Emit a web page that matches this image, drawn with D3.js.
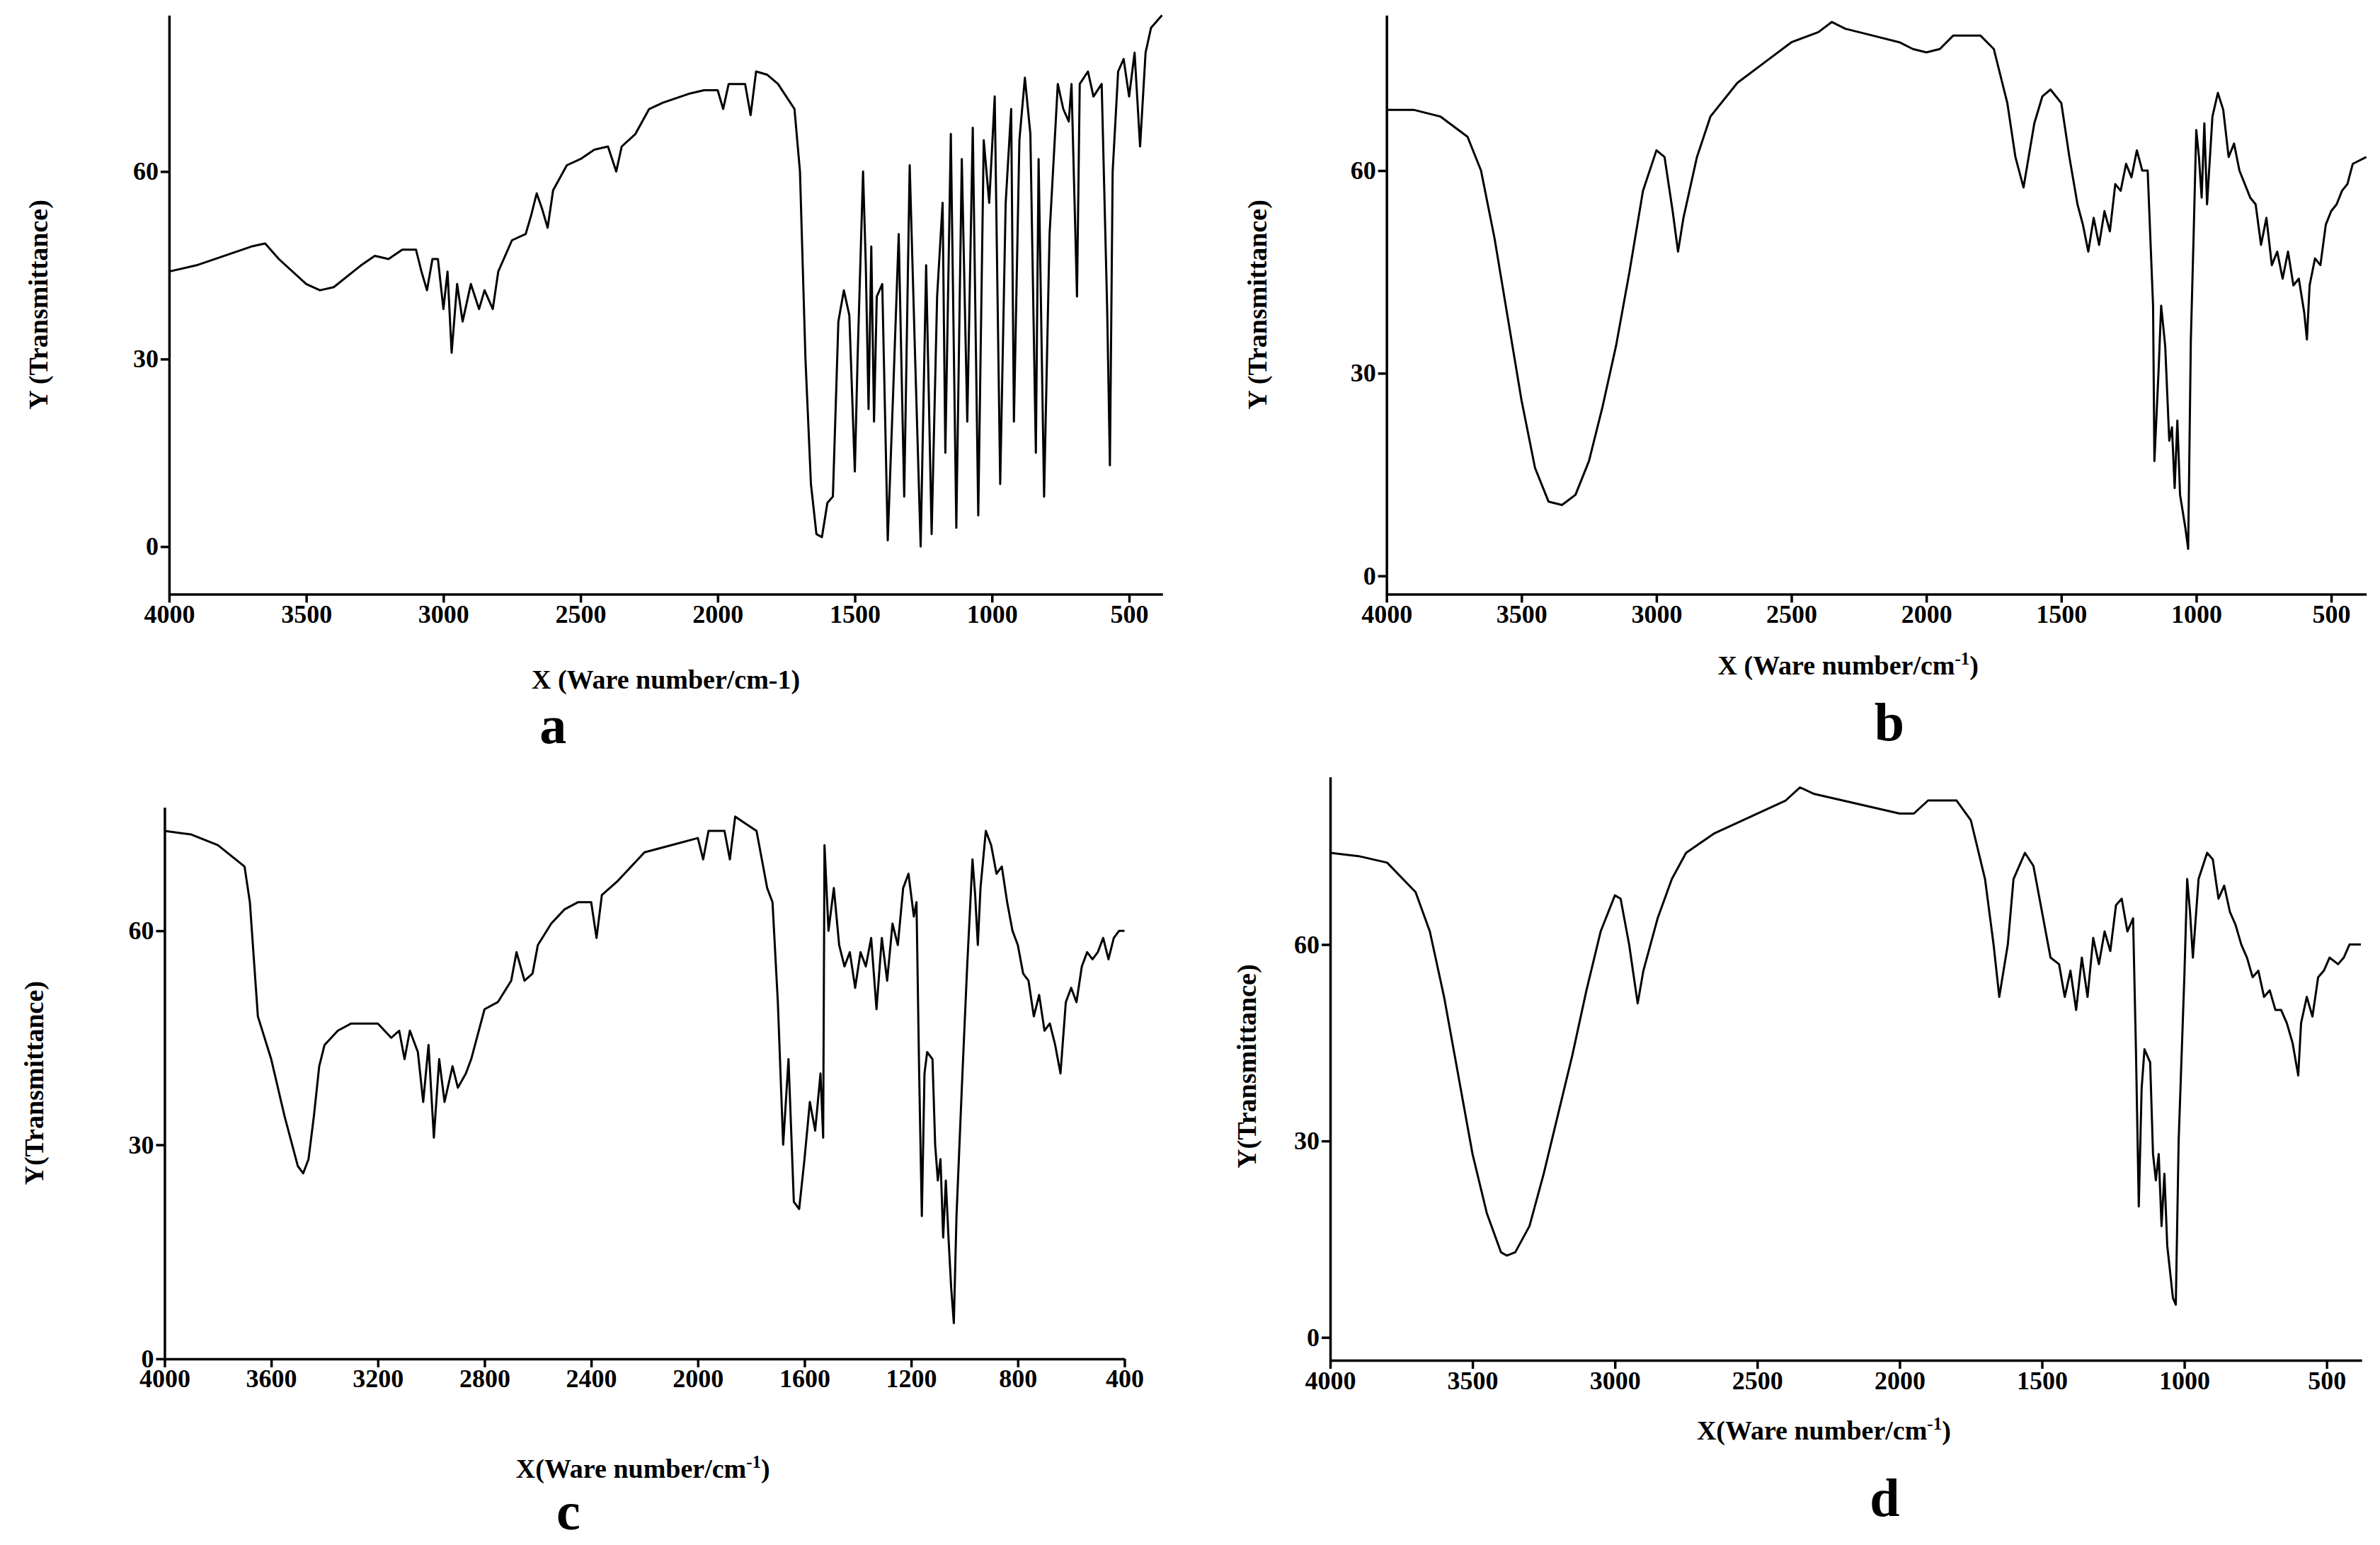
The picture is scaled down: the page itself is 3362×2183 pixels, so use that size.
<!DOCTYPE html><html><head><meta charset="utf-8"><script src="https://cdn.jsdelivr.net/npm/d3@7"></script>
<style>body{margin:0;background:#fff}</style></head><body><svg id="c" width="3362" height="2183"></svg>
<script>
const spectrumA=[[4000,44],[3900,45],[3800,46.5],[3700,48],[3650,48.5],[3600,46],[3500,42],[3450,41],[3400,41.5],[3300,45],[3250,46.5],[3200,46],[3150,47.5],[3100,47.5],[3080,44],[3060,41],[3040,46],[3020,46],[3000,38],[2985,44],[2970,31],[2950,42],[2930,36],[2900,42],[2870,38],[2850,41],[2820,38],[2800,44],[2750,49],[2700,50],[2680,53],[2660,56.5],[2640,54],[2620,51],[2600,57],[2550,61],[2500,62],[2450,63.5],[2400,64],[2370,60],[2350,64],[2300,66],[2250,70],[2200,71],[2100,72.5],[2050,73],[2000,73],[1980,70],[1960,74],[1900,74],[1880,69],[1860,76],[1820,75.5],[1780,74],[1750,72],[1720,70],[1700,60],[1680,30],[1660,10],[1640,2],[1620,1.5],[1600,7],[1580,8],[1560,36],[1540,41],[1520,37],[1500,12],[1490,30],[1470,60],[1460,45],[1450,22],[1440,48],[1430,20],[1420,40],[1400,42],[1380,1],[1360,25],[1340,50],[1320,8],[1300,61],[1280,30],[1260,0],[1240,45],[1220,2],[1200,40],[1180,55],[1170,15],[1150,66],[1130,3],[1110,62],[1090,20],[1070,67],[1050,5],[1030,65],[1010,55],[990,72],[970,10],[950,55],[930,70],[920,20],[900,65],[880,75],[860,66],[840,15],[830,62],[810,8],[790,50],[760,74],[740,70],[720,68],[710,74],[690,40],[680,74],[650,76],[630,72],[600,74],[580,38],[570,13],[560,60],[540,76],[520,78],[500,72],[480,79],[460,64],[440,79],[420,83],[380,85]];
const spectrumB=[[4000,69],[3900,69],[3800,68],[3700,65],[3650,60],[3600,50],[3550,38],[3500,26],[3450,16],[3400,11],[3350,10.5],[3300,12],[3250,17],[3200,25],[3150,34],[3100,45],[3050,57],[3000,63],[2970,62],[2940,54],[2920,48],[2900,53],[2850,62],[2800,68],[2700,73],[2600,76],[2500,79],[2400,80.5],[2350,82],[2300,81],[2200,80],[2100,79],[2050,78],[2000,77.5],[1950,78],[1900,80],[1800,80],[1750,78],[1700,70],[1670,62],[1640,57.5],[1600,67],[1570,71],[1540,72],[1500,70],[1470,62],[1440,55],[1420,52],[1400,48],[1380,53],[1360,49],[1340,54],[1320,51],[1300,58],[1280,57],[1260,61],[1240,59],[1220,63],[1200,60],[1180,60],[1160,40],[1155,17],[1140,30],[1130,40],[1115,34],[1100,20],[1090,22],[1080,13],[1070,23],[1060,12],[1040,7],[1030,4],[1020,35],[1010,50],[1000,66],[990,62],[980,56],[970,67],[960,55],[940,68],[920,71.5],[900,69],[880,62],[860,64],[840,60],[820,58],[800,56],[780,55],[760,49],[740,53],[720,46],[700,48],[680,44],[660,48],[640,43],[620,44],[600,39],[590,35],[580,43],[560,47],[540,46],[520,52],[500,54],[480,55],[460,57],[440,58],[420,61],[370,62]];
const spectrumC=[[4000,74],[3900,73.5],[3800,72],[3700,69],[3680,64],[3650,48],[3600,42],[3550,34],[3500,27],[3480,26],[3460,28],[3440,34],[3420,41],[3400,44],[3350,46],[3300,47],[3200,47],[3150,45],[3120,46],[3100,42],[3080,46],[3050,43],[3030,36],[3010,44],[2990,31],[2970,42],[2950,36],[2920,41],[2900,38],[2870,40],[2850,42],[2800,49],[2750,50],[2700,53],[2680,57],[2650,53],[2620,54],[2600,58],[2550,61],[2500,63],[2450,64],[2400,64],[2380,59],[2360,65],[2300,67],[2200,71],[2100,72],[2000,73],[1980,70],[1960,74],[1900,74],[1880,70],[1860,76],[1820,75],[1780,74],[1760,70],[1740,66],[1720,64],[1700,50],[1680,30],[1660,42],[1640,22],[1620,21],[1600,28],[1580,36],[1560,32],[1540,40],[1530,31],[1525,72],[1510,60],[1490,66],[1470,58],[1450,55],[1430,57],[1410,52],[1390,57],[1370,55],[1350,59],[1330,49],[1310,59],[1290,53],[1270,61],[1250,58],[1230,66],[1210,68],[1190,62],[1180,64],[1170,40],[1160,20],[1150,40],[1140,43],[1120,42],[1110,30],[1100,25],[1090,28],[1080,17],[1070,25],[1060,17],[1050,10],[1040,5],[1030,20],[1010,38],[990,55],[970,70],[960,65],[950,58],[940,66],[920,74],[900,72],[880,68],[860,69],[840,64],[820,60],[800,58],[780,54],[760,53],[740,48],[720,51],[700,46],[680,47],[660,44],[640,40],[620,50],[600,52],[580,50],[560,55],[540,57],[520,56],[500,57],[480,59],[460,56],[440,59],[420,60],[400,60]];
const spectrumD=[[4000,74],[3900,73.5],[3800,72.5],[3700,68],[3650,62],[3600,52],[3550,40],[3500,28],[3450,19],[3400,13],[3380,12.5],[3350,13],[3300,17],[3250,25],[3200,34],[3150,43],[3100,53],[3050,62],[3000,67.5],[2980,67],[2950,60],[2920,51],[2900,56],[2850,64],[2800,70],[2750,74],[2650,77],[2500,80],[2400,82],[2350,84],[2300,83],[2200,82],[2100,81],[2000,80],[1950,80],[1900,82],[1800,82],[1750,79],[1700,70],[1670,60],[1650,52],[1620,60],[1600,70],[1560,74],[1530,72],[1500,65],[1470,58],[1440,57],[1420,52],[1400,56],[1380,50],[1360,58],[1340,52],[1320,61],[1300,57],[1280,62],[1260,59],[1240,66],[1220,67],[1200,62],[1180,64],[1170,44],[1160,20],[1150,38],[1140,44],[1120,42],[1110,28],[1100,24],[1090,28],[1080,17],[1070,25],[1060,14],[1040,6],[1030,5],[1020,30],[1000,55],[990,70],[980,65],[970,58],[950,70],[920,74],[900,73],[880,67],[860,69],[840,65],[820,63],[800,60],[780,58],[760,55],[740,56],[720,52],[700,53],[680,50],[660,50],[640,48],[620,45],[600,40],[590,48],[570,52],[550,49],[530,55],[510,56],[490,58],[460,57],[440,58],[420,60],[380,60]];
const xTicksABD=[4000,3500,3000,2500,2000,1500,1000,500];
const xTicksC=[4000,3600,3200,2800,2400,2000,1600,1200,800,400];
const yTicks=[0,30,60];
const S=3362/1562;
const panels=[
 {data:spectrumA,L:111,R:763,T:10,B:390,x0:4000,x1:378,y0:-7.6,y1:85,xt:xTicksABD,xl:"X (Ware number/cm-1)",sup:false,yl:"Y (Transmittance)",xlp:[437,452],ylp:[25,200],let:"a",lp:[363,488]},
 {data:spectrumB,L:910,R:1553,T:10,B:390,x0:4000,x1:370,y0:-2.7,y1:83,xt:xTicksABD,xl:"X (Ware number/cm",sup:true,yl:"Y (Transmittance)",xlp:[1213,443],ylp:[825,200],let:"b",lp:[1240,486]},
 {data:spectrumC,L:108,R:738,T:530,B:892,x0:4000,x1:400,y0:0,y1:77.3,xt:xTicksC,xl:"X(Ware number/cm",sup:true,yl:"Y(Transmittance)",xlp:[422,970],ylp:[22,711],let:"c",lp:[373,1004]},
 {data:spectrumD,L:873,R:1550,T:510,B:893,x0:4000,x1:377,y0:-3.5,y1:85.6,xt:xTicksABD,xl:"X(Ware number/cm",sup:true,yl:"Y(Transmittance)",xlp:[1197,945],ylp:[818,700],let:"d",lp:[1237,995]}
];
const svg=d3.select("#c");
const F="'Liberation Serif','Times New Roman',serif";
panels.forEach(p=>{
 const x=d3.scaleLinear().domain([p.x0,p.x1]).range([p.L*S,p.R*S]);
 const y=d3.scaleLinear().domain([p.y0,p.y1]).range([p.B*S,p.T*S]);
 const g=svg.append("g");
 g.append("path").datum(p.data).attr("fill","none").attr("stroke","#000").attr("stroke-width",3).attr("stroke-linejoin","round")
  .attr("d",d3.line().x(d=>x(d[0])).y(d=>y(d[1])));
 const ax=g.append("g").attr("transform",`translate(0,${p.B*S})`).call(d3.axisBottom(x).tickValues(p.xt).tickFormat(d3.format("d")).tickSize(12).tickSizeOuter(0));
 const ay=g.append("g").attr("transform",`translate(${p.L*S},0)`).call(d3.axisLeft(y).tickValues(yTicks).tickFormat(d3.format("d")).tickSize(12).tickSizeOuter(0));
 [ax,ay].forEach(a=>{a.selectAll("path,line").attr("stroke","#000").attr("stroke-width",3.5);
  a.selectAll("text").attr("font-family",F).attr("font-weight","bold").attr("font-size",36).attr("fill","#000");});
 const t=g.append("text").attr("x",p.xlp[0]*S).attr("y",p.xlp[1]*S).attr("text-anchor","middle").attr("font-family",F).attr("font-weight","bold").attr("font-size",38).text(p.xl);
 if(p.sup){t.append("tspan").attr("dy",-14).attr("font-size",25).text("-1");t.append("tspan").attr("dy",14).text(")");}
 g.append("text").attr("transform",`translate(${p.ylp[0]*S},${p.ylp[1]*S}) rotate(-90)`).attr("text-anchor","middle").attr("dy","0.35em").attr("font-family",F).attr("font-weight","bold").attr("font-size",38).text(p.yl);
 g.append("text").attr("x",p.lp[0]*S).attr("y",p.lp[1]*S).attr("text-anchor","middle").attr("font-family",F).attr("font-weight","bold").attr("font-size",76).text(p.let);
});
</script></body></html>
